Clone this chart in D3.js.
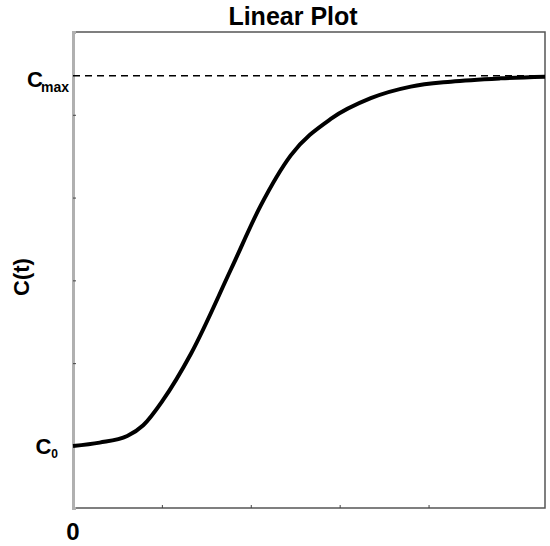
<!DOCTYPE html>
<html>
<head>
<meta charset="utf-8">
<script src="https://d3js.org/d3.v7.min.js"></script>
<style>
  body { margin: 0; background: #fff; }
  text { font-family: "Liberation Sans", Arial, sans-serif; font-weight: bold; fill: #000; }
</style>
</head>
<body>
<svg width="550" height="546"></svg>
<script>
// curve (time units, concentration units)
var tVals = [0, 0.30, 0.61, 0.79, 1.01, 1.33, 1.78, 2.11, 2.45, 2.90, 3.35, 3.80, 4.25, 4.81, 5.31];
var cVals = [0, 0.04, 0.12, 0.25, 0.55, 1.12, 2.14, 2.90, 3.51, 3.95, 4.20, 4.34, 4.40, 4.44, 4.46];
var xTicks = [1, 2, 3, 4];
var yTicks = [1, 2, 3, 4];
var cMax = 4.47;
var c0 = 0;

var svg = d3.select("svg"),
    margin = {top: 32, right: 5, bottom: 38, left: 73},
    width = +svg.attr("width") - margin.left - margin.right,
    height = +svg.attr("height") - margin.top - margin.bottom,
    g = svg.append("g").attr("transform", "translate(" + margin.left + "," + margin.top + ")");

var x = d3.scaleLinear().domain([0, 5.31]).range([0, width]);
var y = d3.scaleLinear().domain([-0.75, 5.0]).range([height, 0]);

// frame top/right/bottom
g.append("path")
    .attr("d", "M0,0H" + width + "V" + height + "H0")
    .attr("fill", "none")
    .attr("stroke", "#555")
    .attr("stroke-width", 1.5);

// x axis ticks
var xa = g.append("g").attr("transform", "translate(0," + height + ")")
    .call(d3.axisBottom(x).tickValues(xTicks).tickSize(-3).tickFormat(""));
xa.select(".domain").remove();
xa.selectAll("line").attr("stroke", "#444");

// y axis
var ya = g.append("g")
    .call(d3.axisLeft(y).tickValues(yTicks).tickSize(-3).tickFormat(""));
ya.select(".domain").attr("stroke", "#b0b0b0").attr("stroke-width", 3);
ya.selectAll("line").attr("stroke", "#444");

// dashed Cmax line
g.append("line")
    .attr("x1", x(0)).attr("x2", width)
    .attr("y1", y(cMax)).attr("y2", y(cMax))
    .attr("stroke", "#000").attr("stroke-width", 1.5)
    .attr("stroke-dasharray", "7,5");

// curve
var line = d3.line()
    .x(function(d, i) { return x(tVals[i]); })
    .y(function(d) { return y(d); })
    .curve(d3.curveMonotoneX);
g.append("path")
    .datum(cVals)
    .attr("d", line)
    .attr("fill", "none")
    .attr("stroke", "#000")
    .attr("stroke-width", 4);

// labels
svg.append("text")
    .attr("x", 293).attr("y", 25)
    .attr("text-anchor", "middle")
    .style("font-size", "25px")
    .text("Linear Plot");

var cm = svg.append("text")
    .attr("x", 69).attr("y", margin.top + y(cMax) + 11)
    .attr("text-anchor", "end")
    .style("font-size", "22px");
cm.append("tspan").text("C");
cm.append("tspan").attr("dy", 5).attr("dx", -2).style("font-size", "14px").text("max");

var c0t = svg.append("text")
    .attr("x", 58).attr("y", margin.top + y(c0) + 8)
    .attr("text-anchor", "end")
    .style("font-size", "22px");
c0t.append("tspan").text("C");
c0t.append("tspan").attr("dy", 4).style("font-size", "12px").text("0");

svg.append("text")
    .attr("transform", "translate(29,277) rotate(-90)")
    .attr("text-anchor", "middle")
    .style("font-size", "22px")
    .text("C(t)");

svg.append("text")
    .attr("x", margin.left + x(0)).attr("y", 540)
    .attr("text-anchor", "middle")
    .style("font-size", "24px")
    .text("0");
</script>
</body>
</html>
